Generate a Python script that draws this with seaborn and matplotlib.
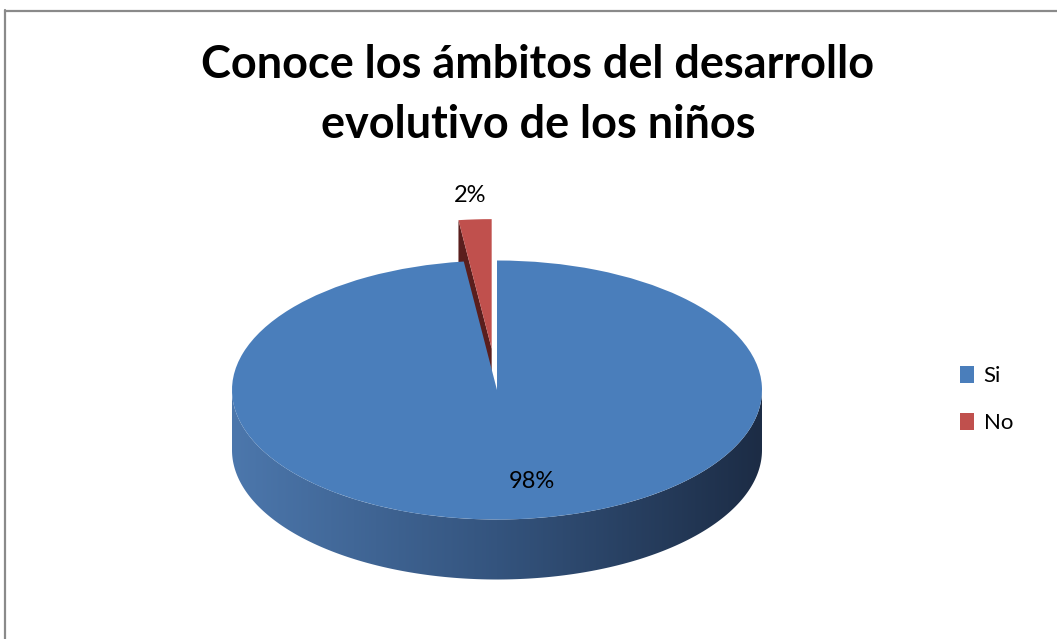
import numpy as np
import matplotlib
matplotlib.use("Agg")
import matplotlib.pyplot as plt
import seaborn as sns
from matplotlib.colors import LinearSegmentedColormap
from matplotlib.patches import Polygon, Patch
from matplotlib.lines import Line2D

# Survey answers
categories = ["Si", "No"]
percentages = [98, 2]
slice_colors = ["#4A7EBB", "#C0504D"]
side_colors = ["#5A1E1D", "#5A1E1D"]
title_lines = ["Conoce los ámbitos del desarrollo", "evolutivo de los niños"]

sns.set_style("white")
plt.rcParams["font.family"] = ["Lato", "DejaVu Sans"]
plt.rcParams["text.color"] = "#000000"

W, H = 1057, 639
fig = plt.figure(figsize=(W / 100, H / 100), dpi=100)
ax = fig.add_axes([0, 0, 1, 1])

# The pie lives in unit coordinates; the axes limits squash the unit
# circle into a tilted ellipse (centre cx, cy; radii rx, ry in pixels).
cx, cy, rx, ry = 497, 390, 265, 129.5
depth = 60 / ry
explode = [0, 0.32]

wedges, _ = ax.pie(percentages, colors=slice_colors, startangle=90,
                   counterclock=False, explode=explode, radius=1,
                   wedgeprops=dict(linewidth=0))
for w in wedges:
    w.set_zorder(3)

wall_cmap = LinearSegmentedColormap.from_list(
    "wall", ["#4C77AC", "#34547E", "#1C2C45"])


def front_spans(t1, t2):
    spans = []
    for base in (-360, 0, 360):
        lo, hi = max(t1, base + 180), min(t2, base + 360)
        if hi > lo:
            spans.append((lo, hi))
    return spans


for w, side in zip(wedges, side_colors):
    ox, oy = w.center
    r = w.r
    # curved outer wall on the front half
    for lo, hi in front_spans(w.theta1, w.theta2):
        t = np.radians(np.linspace(lo, hi, 300))
        top = np.column_stack([ox + r * np.cos(t), oy + r * np.sin(t)])
        bot = top[::-1] - [0, depth]
        wall = Polygon(np.vstack([top, bot]), closed=True,
                       facecolor="none", edgecolor="none")
        ax.add_patch(wall)
        grad = np.linspace(0, 1, 256).reshape(1, -1)
        im = ax.imshow(grad, cmap=wall_cmap, aspect="auto",
                       extent=(ox - r, ox + r, oy - r - depth, oy),
                       interpolation="bicubic", zorder=2)
        im.set_clip_path(wall)
    # flat radial faces that turn toward the viewer
    if w.theta2 - w.theta1 < 180:
        for ang, sgn in ((w.theta1, 1), (w.theta2, -1)):
            a = np.radians(ang)
            ny = -np.cos(a) * sgn
            if ny < -1e-6:
                p0 = np.array([ox, oy])
                p1 = p0 + r * np.array([np.cos(a), np.sin(a)])
                face = Polygon([p0, p1, p1 - [0, depth], p0 - [0, depth]],
                               closed=True, facecolor=side,
                               edgecolor="none", zorder=2.5)
                ax.add_patch(face)

ax.set_aspect("auto")
ax.set_xlim(-cx / rx, (W - cx) / rx)
ax.set_ylim((cy - H) / ry, cy / ry)
ax.axis("off")

# percentage labels
label_anchor = [(0.13, -0.705), (-0.10, 1.50)]
for p, (lx, ly) in zip(percentages, label_anchor):
    ax.text(lx, ly, f"{p}%", ha="center", va="center", fontsize=17,
            color="#000000", zorder=5)

# title
for line, base in zip(title_lines, (78, 138)):
    fig.text(538 / W, 1 - base / H, line, ha="center", va="baseline",
             fontsize=32.4, fontweight="bold", color="#000000")

# legend
handles = [Patch(facecolor=c, edgecolor="none", label=l)
           for l, c in zip(categories, slice_colors)]
fig.legend(handles=handles, loc="upper left",
           bbox_to_anchor=(960 / W, 1 - 366 / H), frameon=False,
           fontsize=16, handlelength=0.62, handleheight=0.8,
           handletextpad=0.45, labelspacing=1.2, borderpad=0,
           borderaxespad=0, labelcolor="#000000")

# chart-area border
fig.add_artist(Line2D([4.5 / W, 4.5 / W], [0, 1 - 10 / H],
                      color="#8A8A8A", lw=1.6, transform=fig.transFigure))
fig.add_artist(Line2D([4.5 / W, 1], [1 - 10.5 / H, 1 - 10.5 / H],
                      color="#8A8A8A", lw=1.6, transform=fig.transFigure))

fig.savefig("out.png", dpi=100)
